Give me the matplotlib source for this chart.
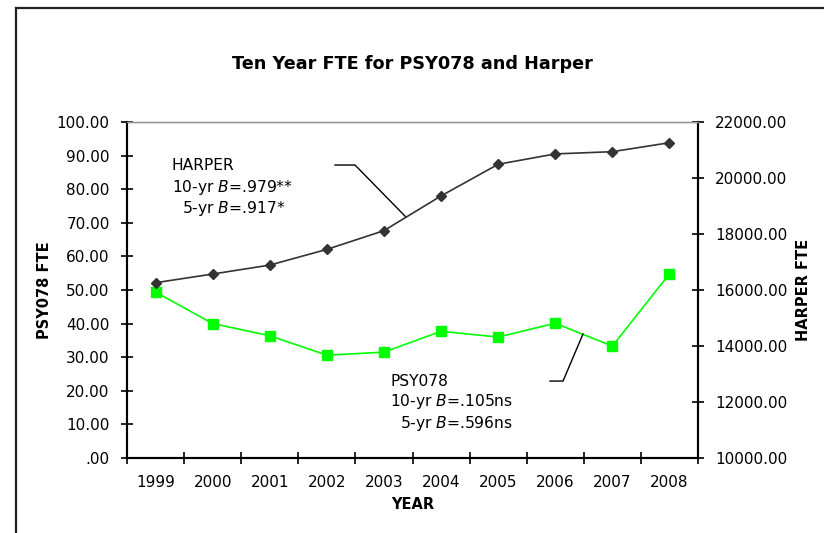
import matplotlib
matplotlib.use("Agg")
import matplotlib.pyplot as plt
from matplotlib.lines import Line2D
from matplotlib.ticker import FixedLocator, FuncFormatter

years = ["1999", "2000", "2001", "2002", "2003", "2004", "2005", "2006", "2007", "2008"]
psy078 = [49.4, 40.0, 36.4, 30.6, 31.5, 37.7, 36.0, 40.1, 33.3, 54.8]
harper = [16260, 16570, 16890, 17450, 18120, 19360, 20490, 20860, 20940, 21260]

plt.rcParams['font.family'] = ['DejaVu Sans']
plt.rcParams['mathtext.fontset'] = 'dejavusans'

W, H = 824, 533
fig = plt.figure(figsize=(W / 100, H / 100), dpi=100)

# outer frame (only top and left edges show)
fig.add_artist(Line2D([16 / W, 16 / W], [1 - 8 / H, 0], color='#222222', lw=1.6))
fig.add_artist(Line2D([16 / W, 1], [1 - 8 / H, 1 - 8 / H], color='#222222', lw=1.6))

ax = fig.add_axes([127 / W, 1 - 458 / H, 571 / W, 336 / H])
ax2 = ax.twinx()

x = list(range(len(years)))
ax.plot(x, psy078, color='#00ff00', lw=1.2, marker='s', markersize=6.5, zorder=3)
ax2.plot(x, harper, color='#333333', lw=1.2, marker='D', markersize=5.5, zorder=3)

ax.set_xlim(-0.5, len(years) - 0.5)
ax.set_ylim(0, 100)
ax2.set_ylim(10000, 22000)

# x ticks between categories, labels centred on categories
ax.xaxis.set_major_locator(FixedLocator([i - 0.5 for i in range(len(years) + 1)]))
ax.xaxis.set_major_formatter(FuncFormatter(lambda v, p: ""))
ax.xaxis.set_minor_locator(FixedLocator(x))
ax.set_xticklabels(years, minor=True)
ax.tick_params(axis='x', which='major', direction='inout', length=9, width=1.2)
ax.tick_params(axis='x', which='minor', length=0, pad=12, labelsize=11)

ax.set_yticks(range(0, 101, 10))
ax.yaxis.set_major_formatter(FuncFormatter(lambda v, p: f"{v:.2f}".lstrip("0") if v < 1 else f"{v:.2f}"))
ax.tick_params(axis='y', direction='inout', length=9, width=1.2, pad=8, labelsize=11)

ax2.set_yticks(range(10000, 22001, 2000))
ax2.yaxis.set_major_formatter(FuncFormatter(lambda v, p: f"{v:.2f}"))
ax2.tick_params(axis='y', direction='inout', length=9, width=1.2, pad=8, labelsize=11)

for a in (ax, ax2):
    a.spines['top'].set_color('#999999')
    a.spines['top'].set_linewidth(1.0)
    a.spines['left'].set_linewidth(1.5)
    a.spines['right'].set_linewidth(1.5)
    a.spines['bottom'].set_linewidth(1.5)

ax.set_title("Ten Year FTE for PSY078 and Harper", fontsize=12.7, fontweight='bold', pad=38)
ax.set_xlabel("YEAR", fontsize=10.5, fontweight='bold', labelpad=5)
ax.set_ylabel("PSY078 FTE", fontsize=10.5, fontweight='bold', labelpad=3)
ax2.set_ylabel("HARPER FTE", fontsize=10.5, fontweight='bold', labelpad=6)

# callouts
fs = 11.2
ax.text(0.288, 87.2, "HARPER", fontsize=fs, va='center', zorder=4)
ax.text(0.288, 80.4, r"10-yr $\mathit{B}$=.979**", fontsize=fs, va='center', zorder=4)
ax.text(0.463, 74.4, r"5-yr $\mathit{B}$=.917*", fontsize=fs, va='center', zorder=4)
ax.plot([3.143, 3.493, 4.386], [87.2, 87.2, 71.7], color='black', lw=1.0, zorder=4)

ax.text(4.106, 22.9, "PSY078", fontsize=fs, va='center', zorder=4)
ax.text(4.106, 16.7, r"10-yr $\mathit{B}$=.105ns", fontsize=fs, va='center', zorder=4)
ax.text(4.281, 10.4, r"5-yr $\mathit{B}$=.596ns", fontsize=fs, va='center', zorder=4)
ax.plot([6.908, 7.136, 7.486], [22.9, 22.9, 36.9], color='black', lw=1.0, zorder=4)

fig.savefig("out.png", dpi=100)
